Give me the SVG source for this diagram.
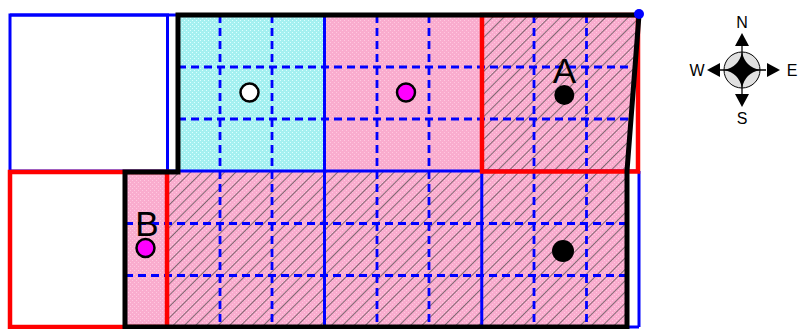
<svg xmlns="http://www.w3.org/2000/svg" width="802" height="329" viewBox="0 0 802 329">
<style>
.blue{fill:none;stroke:#0000ff;stroke-width:3}
.dash{fill:none;stroke:#0000ff;stroke-width:2.8;stroke-dasharray:8 5}
.red{fill:none;stroke:#ff0000;stroke-width:4.5}
.blk{fill:none;stroke:#000;stroke-width:5;stroke-linejoin:miter}
.lbl{font-family:"Liberation Sans",Arial,sans-serif;font-size:35px;fill:#000;text-anchor:middle}
.cl{font-family:"Liberation Sans",Arial,sans-serif;font-size:16px;fill:#000;text-anchor:middle}
.dot{stroke:#000;stroke-width:2.5}
</style>
<defs>
<pattern id="pinkDots" width="4" height="4" patternUnits="userSpaceOnUse"><rect width="4" height="4" fill="#f9acce"/><rect x="0" y="0" width="1" height="1" fill="#ffc8e0"/><rect x="2" y="2" width="1" height="1" fill="#ffc8e0"/></pattern>
<pattern id="cyanDots" width="4" height="4" patternUnits="userSpaceOnUse"><rect width="4" height="4" fill="#a4f0f0"/><rect x="0" y="0" width="1" height="1" fill="#dcffff"/><rect x="2" y="2" width="1" height="1" fill="#dcffff"/></pattern>
<pattern id="hatch" width="8" height="8" patternUnits="userSpaceOnUse" patternTransform="rotate(45)"><line x1="0" y1="0" x2="0" y2="8" stroke="#3a3a3a" stroke-width="1.5" stroke-opacity="0.85"/></pattern>
<clipPath id="poly"><polygon points="178,15 639,15 627,171 627,327 125,327 125,172 178,172"/></clipPath>
</defs>
<rect width="802" height="329" fill="#fff"/>
<g id="fills" clip-path="url(#poly)">
<rect x="120" y="10" width="530" height="320" fill="url(#pinkDots)"/>
<rect x="178" y="15" width="146.5" height="156" fill="url(#cyanDots)"/>
<rect x="481.75" y="15" width="160" height="156" fill="url(#hatch)"/>
<rect x="167.5" y="171" width="470" height="158" fill="url(#hatch)"/>
</g>
<g id="grid">
<rect class="blue" x="10" y="15" width="157.5" height="156"/>
<line class="blue" x1="10" y1="15" x2="639" y2="15"/>
<line class="blue" x1="167.5" y1="171" x2="639" y2="171"/>
<line class="blue" x1="324.5" y1="15" x2="324.5" y2="327"/>
<line class="blue" x1="481.75" y1="171" x2="481.75" y2="327"/>
<line class="blue" x1="639" y1="171" x2="639" y2="327"/>
<line class="blue" x1="125" y1="327" x2="639" y2="327"/>
<g id="dashes">
<line class="dash" x1="178" y1="67" x2="634" y2="67"/>
<line class="dash" x1="178" y1="119" x2="631" y2="119"/>
<line class="dash" x1="125" y1="223.5" x2="627" y2="223.5"/>
<line class="dash" x1="125" y1="275.5" x2="627" y2="275.5"/>
<line class="dash" x1="220" y1="15" x2="220" y2="327"/>
<line class="dash" x1="272" y1="15" x2="272" y2="327"/>
<line class="dash" x1="377" y1="15" x2="377" y2="327"/>
<line class="dash" x1="429" y1="15" x2="429" y2="327"/>
<line class="dash" x1="534" y1="15" x2="534" y2="327"/>
<line class="dash" x1="586.5" y1="15" x2="586.5" y2="327"/>
</g>
</g>
<g id="redCells">
<rect class="red" x="482" y="15" width="156" height="156.5"/>
<rect class="red" x="10" y="172" width="157" height="155"/>
</g>
<g id="boundary">
<polygon class="blk" points="178,15 639,15 627,171 627,327 125,327 125,172 178,172"/>
<circle cx="639" cy="14" r="5" fill="#0000ff"/>
</g>
<g id="nodeWhite"><circle class="dot" cx="249.5" cy="92.5" r="9" fill="#fff"/></g>
<g id="nodeMagenta"><circle class="dot" cx="406" cy="92.5" r="9" fill="#ff00ff"/></g>
<g id="nodeA"><text class="lbl" x="564.5" y="83">A</text><circle cx="564.3" cy="95" r="10" fill="#000"/></g>
<g id="nodeBlack"><circle cx="563" cy="251" r="11" fill="#000"/></g>
<g id="nodeB"><text class="lbl" x="147" y="236">B</text><circle class="dot" cx="145.5" cy="248" r="9" fill="#ff00ff"/></g>
<g id="compass">
<circle cx="742" cy="70" r="18" fill="#e0e0e0" stroke="#000" stroke-width="1"/>
<line x1="720" y1="70" x2="766" y2="70" stroke="#000" stroke-width="1.3"/>
<line x1="742" y1="46" x2="742" y2="94" stroke="#000" stroke-width="1.3"/>
<path d="M742,52 Q745,67 760,70 Q745,73 742,88 Q739,73 724,70 Q739,67 742,52 Z" fill="#000"/>
<polygon points="742,33 735,46 749,46" fill="#000"/>
<polygon points="742,107 735,94 749,94" fill="#000"/>
<polygon points="707,70 720,63 720,77" fill="#000"/>
<polygon points="780,70 767,63 767,77" fill="#000"/>
<text class="cl" x="742" y="28">N</text>
<text class="cl" x="742" y="123.5">S</text>
<text class="cl" x="697" y="76">W</text>
<text class="cl" x="792" y="76">E</text>
</g>
</svg>
